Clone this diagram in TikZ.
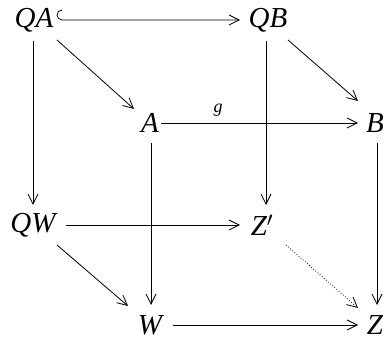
\documentclass[tikz,border=0pt]{standalone}
\usepackage{fontspec}
\setmainfont{Liberation Serif}
\usetikzlibrary{arrows.meta}
\begin{document}
\begin{tikzpicture}[x=1pt,y=-1pt,
  obj/.style={font=\fontsize{29}{32}\selectfont\itshape, inner sep=0pt, outer sep=0pt},
  tip/.tip={Straight Barb[length=10pt,width=10pt,line width=0.8pt]},
  arr/.style={line width=0.8pt, -tip},
  lbl/.style={font=\fontsize{18}{20}\selectfont\itshape}]
\useasboundingbox (0,0) rectangle (386,339);
\node[obj] (QA) at (34,20) {QA};
\node[obj] (QB) at (268,20) {QB};
\node[obj] (A) at (150,123) {A};
\node[obj] (B) at (375,123) {B};
\node[obj] (QW) at (33,225) {QW};
\node[obj] (Zp) at (262,225) {Z$'$};
\node[obj] (W) at (150,325) {W};
\node[obj] (Z) at (375,325) {Z};
\coordinate (a0) at (62,10);
\coordinate (a2) at (240,20);
\draw[arr] (a0) arc[start angle=270, end angle=90, radius=5] -- (a2);
\coordinate (b1) at (57,40);
\coordinate (b2) at (134,109);
\draw[arr] (b1) -- (b2);
\coordinate (c1) at (288,40);
\coordinate (c2) at (358,101);
\draw[arr] (c1) -- (c2);
\coordinate (d1) at (161,123);
\coordinate (d2) at (358,123);
\draw[arr] (d1) -- node[lbl, pos=0.29, above=3pt] {g} (d2);
\coordinate (e1) at (33,41);
\coordinate (e2) at (33,205);
\draw[arr] (e1) -- (e2);
\coordinate (f1) at (266,41);
\coordinate (f2) at (266,205);
\draw[arr] (f1) -- (f2);
\coordinate (g1) at (151,143);
\coordinate (g2) at (151,305);
\draw[arr] (g1) -- (g2);
\coordinate (h1) at (377,143);
\coordinate (h2) at (377,305);
\draw[arr] (h1) -- (h2);
\coordinate (i1) at (66,225);
\coordinate (i2) at (240,225);
\draw[arr] (i1) -- (i2);
\coordinate (j1) at (57,245);
\coordinate (j2) at (128,306);
\draw[arr] (j1) -- (j2);
\coordinate (k1) at (173,325);
\coordinate (k2) at (358,325);
\draw[arr] (k1) -- (k2);
\coordinate (l1) at (286,245);
\coordinate (l2) at (358,308);
\draw[arr, dotted] (l1) -- (l2);
\end{tikzpicture}
\end{document}
